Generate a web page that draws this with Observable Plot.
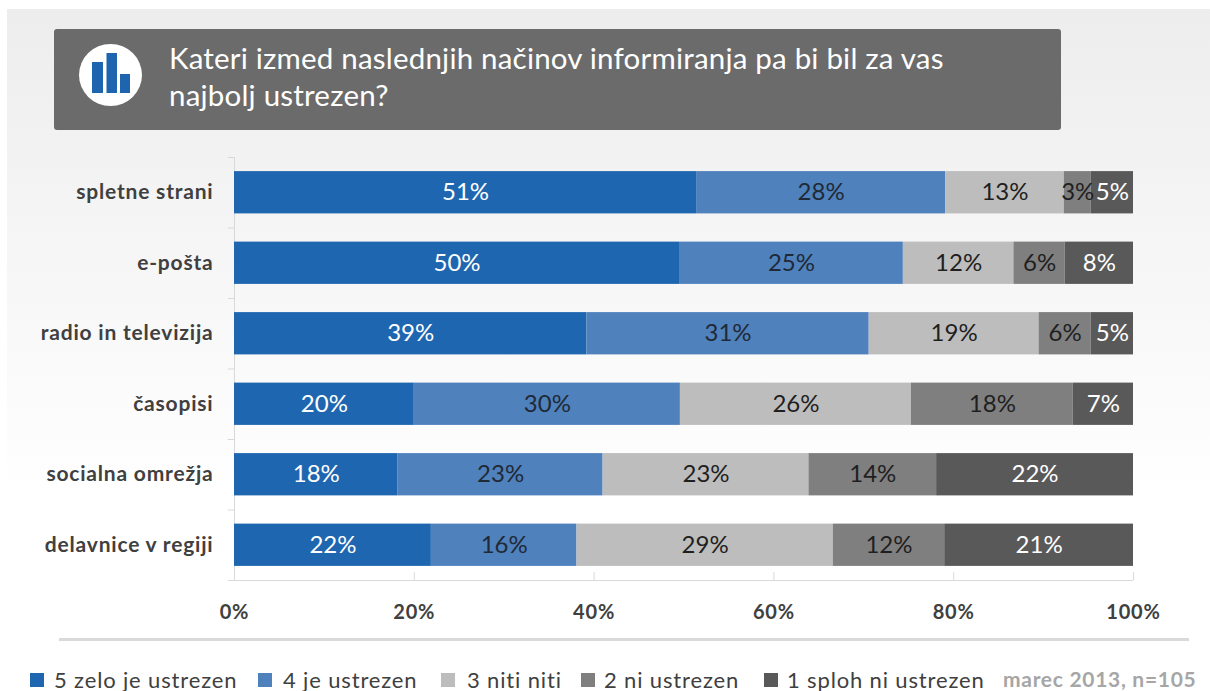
<!DOCTYPE html>
<html lang="sl">
<head>
<meta charset="utf-8">
<script src="https://cdn.jsdelivr.net/npm/d3@7"></script>
<script src="https://cdn.jsdelivr.net/npm/@observablehq/plot@0.6"></script>
<style>
  html, body { margin: 0; padding: 0; background: #fff; overflow: hidden; }
  body { width: 1210px; height: 691px; position: relative; font-family: Lato, "Open Sans", sans-serif; }
  #panel { position: absolute; left: 7px; top: 9px; right: 0; height: 470px; background: linear-gradient(#ededed, #fefefe); }
  #page { position: relative; }
  #header { height: 150px; position: relative; }
  #box { position: absolute; left: 54px; top: 29px; width: 1007px; height: 101px; background: #6b6b6b; border-radius: 3px; }
  #box svg { position: absolute; left: 25px; top: 15px; }
  #box h1 { position: absolute; left: 115px; top: 10px; margin: 0; color: #fff; font-weight: 400; font-size: 29.5px; letter-spacing: 0.2px; line-height: 37px; white-space: nowrap; }
  #chart svg { display: block; }
  #chart g[aria-label="y-axis tick label"] { letter-spacing: 0.8px; }
  #chart g[aria-label="x-axis tick label"] { letter-spacing: 0.8px; }
  #rule { position: absolute; left: 59px; top: 638px; width: 1130px; height: 3px; background: #d9d9d9; }
  #legend { position: absolute; left: 0; top: 664px; width: 1210px; height: 27px; }
  #legend span { position: absolute; top: 0; white-space: nowrap; color: #404040; font-size: 22px; line-height: 32px; letter-spacing: 0.85px; }
  #legend i { position: absolute; top: 9px; width: 14px; height: 14px; }
  #legend .note { color: #a6a6a6; font-weight: 700; font-size: 21px; letter-spacing: 0.7px; line-height: 29px; }
</style>
</head>
<body>
<div id="panel"></div>
<div id="page">
  <div id="header"><div id="box">
    <svg width="63" height="62" viewBox="0 0 63 62" role="img" aria-label="ikona">
      <ellipse cx="31.5" cy="31" rx="31.5" ry="31" fill="#fff"/>
      <rect x="13" y="18" width="11" height="31" fill="#1f64ae"/>
      <rect x="27.5" y="9" width="10.5" height="40" fill="#1f64ae"/>
      <rect x="41" y="30" width="10" height="19" fill="#1f64ae"/>
    </svg>
    <h1 id="title"></h1>
  </div></div>
  <div id="chart"></div>
</div>
<div id="rule"></div>
<div id="legend"></div>
<script>
const titleLines = ["Kateri izmed naslednjih načinov informiranja pa bi bil za vas", "najbolj ustrezen?"];
const categories = ["spletne strani", "e-pošta", "radio in televizija", "časopisi", "socialna omrežja", "delavnice v regiji"];
const levels = ["5 zelo je ustrezen", "4 je ustrezen", "3 niti niti", "2 ni ustrezen", "1 sploh ni ustrezen"];
const colors = ["#1f66b0", "#4f81bd", "#bdbdbd", "#7f7f7f", "#595959"];
const labelColors = ["#ffffff", "#1f2a36", "#1f1f1f", "#1f1f1f", "#ffffff"];
const level5 = [51.4, 49.5, 39.2, 20.0, 18.2, 21.9];
const level4 = [27.7, 24.9, 31.4, 29.6, 22.8, 16.2];
const level3 = [13.2, 12.3, 18.9, 25.7, 22.9, 28.5];
const level2 = [3.0, 5.7, 5.8, 18.0, 14.2, 12.4];
const level1 = [4.7, 7.6, 4.7, 6.7, 21.9, 21.0];
const xTicks = [0, 20, 40, 60, 80, 100];
const note = "marec 2013, n=105";

document.getElementById("title").innerHTML = titleLines.join("<br>");

const series = [level5, level4, level3, level2, level1];
const rows = series.flatMap((vals, i) => vals.map((v, j) => ({
  category: categories[j], level: levels[i], value: v, ink: labelColors[i]
})));

const SVG_H = 470, M_TOP = 7, M_BOTTOM = 40;
const halfStep = (SVG_H - M_TOP - M_BOTTOM) / categories.length / 2;
const gridColor = "#d9d9d9";

const plot = Plot.plot({
  width: 1210,
  height: SVG_H,
  marginLeft: 234,
  marginRight: 77,
  marginTop: M_TOP,
  marginBottom: M_BOTTOM,
  style: { background: "transparent", overflow: "visible" },
  x: { domain: [0, 100], label: null },
  y: { domain: categories, paddingInner: 0.4, paddingOuter: 0.2, round: false, label: null },
  color: { domain: levels, range: colors },
  marks: [
    Plot.ruleX([0], { stroke: gridColor }),
    Plot.ruleY(categories, { y: d => d, x1: -0.7, x2: 0, dy: -halfStep, stroke: gridColor }),
    Plot.ruleY(categories.slice(-1), { y: d => d, x1: -0.7, x2: 100, dy: halfStep, stroke: gridColor }),
    Plot.ruleX(xTicks.slice(1), { x: d => d, insetTop: SVG_H - M_TOP - M_BOTTOM - 8, stroke: gridColor }),
    Plot.barX(rows, Plot.stackX({ x: "value", y: "category", z: "level", fill: "level", order: null })),
    Plot.text(rows, Plot.stackX({
      x: "value", y: "category", z: "level", order: null,
      text: d => `${Math.round(d.value)}%`,
      fill: "ink", fontSize: 24, fontFamily: "Lato, 'Open Sans', sans-serif"
    })),
    Plot.axisY({ tickSize: 0, tickPadding: 21, label: null, fontSize: 21, fontWeight: 700, fill: "#404040",
      fontFamily: "Lato, 'Open Sans', sans-serif", lineAnchor: "middle" }),
    Plot.axisX(xTicks, { tickSize: 0, tickPadding: 24, label: null, fontSize: 20, fontWeight: 700, fill: "#404040",
      fontFamily: "Lato, 'Open Sans', sans-serif", tickFormat: d => `${d}%` })
  ]
});
document.getElementById("chart").append(plot);

const legend = document.getElementById("legend");
const squareX = [30, 258, 441, 581, 764];
const textX = [54, 283, 467, 604, 787];
levels.forEach((name, i) => {
  const sq = document.createElement("i");
  sq.style.left = squareX[i] + "px";
  sq.style.background = colors[i];
  legend.append(sq);
  const t = document.createElement("span");
  t.style.left = textX[i] + "px";
  t.textContent = name;
  legend.append(t);
});
const n = document.createElement("span");
n.className = "note";
n.style.left = "1003px";
n.textContent = note;
legend.append(n);
</script>
</body>
</html>
